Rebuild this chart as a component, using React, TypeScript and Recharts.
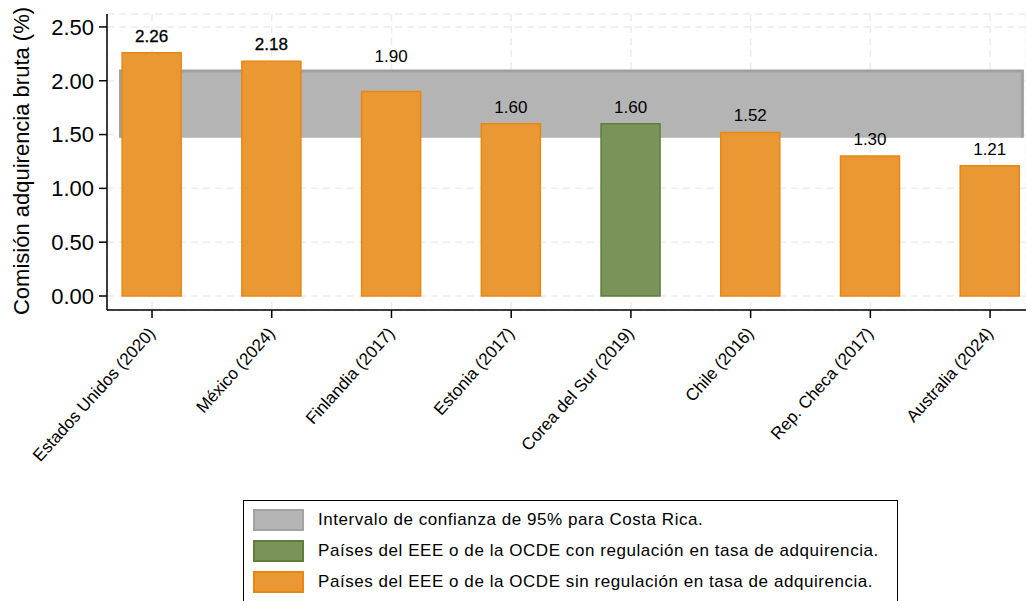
import React from 'react';
import {
  ComposedChart,
  Bar,
  Cell,
  XAxis,
  YAxis,
  CartesianGrid,
  ReferenceArea,
  LabelList,
} from 'recharts';

// Países, orden del gráfico
const countries = [
  'Estados Unidos (2020)',
  'México (2024)',
  'Finlandia (2017)',
  'Estonia (2017)',
  'Corea del Sur (2019)',
  'Chile (2016)',
  'Rep. Checa (2017)',
  'Australia (2024)',
];
const positions = [1, 2, 3, 4, 5, 6, 7, 8];
const fees = [2.26, 2.18, 1.9, 1.6, 1.6, 1.52, 1.3, 1.21];
// true = con regulación en tasa de adquirencia
const regulated = [false, false, false, false, true, false, false, false];

// Intervalo de confianza 95% para Costa Rica
const ciLow = 1.47;
const ciHigh = 2.09;
const ciFrom = 0.737;
const ciTo = 8.27;

const yTicks = [0, 0.5, 1, 1.5, 2, 2.5];

const legendItems = [
  { label: 'Intervalo de confianza de 95% para Costa Rica.', fill: '#b4b4b4', stroke: '#a3a3a3' },
  { label: 'Países del EEE o de la OCDE con regulación en tasa de adquirencia.', fill: '#7a9358', stroke: '#5e7f3a' },
  { label: 'Países del EEE o de la OCDE sin regulación en tasa de adquirencia.', fill: '#ea9834', stroke: '#e8860f' },
];

const ORANGE = '#ea9834';
const ORANGE_EDGE = '#e8860f';
const GREEN = '#7a9358';
const GREEN_EDGE = '#5e7f3a';
const FONT = 'Arial, "Liberation Sans", sans-serif';

const chartData = countries.map((name, i) => ({
  name,
  pos: positions[i],
  value: fees[i],
  regulated: regulated[i],
}));

function XTick(props: any) {
  const { x, y, payload } = props;
  const label = countries[payload.value - 1] ?? '';
  const ax = x + 4;
  const ay = y + 14;
  return (
    <text
      x={ax}
      y={ay}
      textAnchor="end"
      fontSize={17}
      fontFamily={FONT}
      fill="#000"
      transform={`rotate(-48, ${ax}, ${ay})`}
    >
      {label}
    </text>
  );
}

function BandShape(props: any) {
  const { x, y, width, height } = props;
  return (
    <g>
      <rect x={x} y={y} width={width} height={height} fill="#b4b4b4" />
      <path
        d={`M${x},${y + height} L${x},${y} L${x + width},${y} L${x + width},${y + height}`}
        fill="none"
        stroke="#a0a0a0"
        strokeWidth={3}
      />
    </g>
  );
}

function ValueLabel(props: any) {
  const { x, y, width, value, index } = props;
  // the 1.90 label sits higher in the original
  const lift = index === 2 ? 29 : 11;
  const heavy = index < 2;
  return (
    <text
      x={x + width / 2}
      y={y - lift}
      textAnchor="middle"
      fontSize={17}
      fontFamily={FONT}
      fill="#000"
      stroke={heavy ? '#000' : 'none'}
      strokeWidth={heavy ? 0.3 : 0}
    >
      {Number(value).toFixed(2)}
    </text>
  );
}

export default function App() {
  return (
    <div style={{ position: 'absolute', left: 0, top: 0, width: 1026, height: 601, background: '#fff' }}>
      <ComposedChart
        width={1026}
        height={601}
        data={chartData}
        margin={{ top: 14, right: 0, left: 0, bottom: 0 }}
      >
        <CartesianGrid
          stroke="#ececec"
          strokeWidth={1.5}
          strokeDasharray="7 5"
        />
        <XAxis
          dataKey="pos"
          type="number"
          domain={[0.624, 8.3]}
          ticks={positions}
          allowDataOverflow
          height={291}
          axisLine={{ stroke: '#000', strokeWidth: 1.5 }}
          tickLine={{ stroke: '#000', strokeWidth: 1.5 }}
          tickSize={8}
          interval={0}
          tick={<XTick />}
        />
        <YAxis
          type="number"
          domain={[-0.13, 2.62]}
          ticks={yTicks}
          allowDataOverflow
          width={107}
          axisLine={{ stroke: '#000', strokeWidth: 1.5 }}
          tickLine={{ stroke: '#000', strokeWidth: 1.5 }}
          tickSize={8}
          tickMargin={5}
          tick={{ fontSize: 22, fontFamily: FONT, fill: '#000' }}
          tickFormatter={(v: number) => v.toFixed(2)}
          label={{
            content: () => (
              <text
                x={29}
                y={161}
                textAnchor="middle"
                fontSize={22}
                fontFamily={FONT}
                fill="#000"
                transform="rotate(-90, 29, 161)"
              >
                Comisión adquirencia bruta (%)
              </text>
            ),
          }}
        />
        <ReferenceArea
          x1={ciFrom}
          x2={ciTo}
          y1={ciLow}
          y2={ciHigh}
          shape={<BandShape />}
        />
        <Bar dataKey="value" barSize={59} strokeWidth={1.5} isAnimationActive={false}>
          {chartData.map((d, i) => (
            <Cell
              key={i}
              fill={d.regulated ? GREEN : ORANGE}
              stroke={d.regulated ? GREEN_EDGE : ORANGE_EDGE}
            />
          ))}
          <LabelList dataKey="value" content={<ValueLabel />} />
        </Bar>
      </ComposedChart>

      <div
        style={{
          position: 'absolute',
          left: 243,
          top: 500,
          width: 655,
          height: 120,
          border: '1px solid #000',
          background: '#fff',
          boxSizing: 'border-box',
          fontFamily: FONT,
          fontSize: 17,
          letterSpacing: 0.55,
          color: '#000',
        }}
      >
        {legendItems.map((item, i) => (
          <div
            key={i}
            style={{
              position: 'absolute',
              left: 9,
              top: 8 + i * 31,
              display: 'flex',
              alignItems: 'center',
              whiteSpace: 'nowrap',
            }}
          >
            <span
              style={{
                display: 'inline-block',
                width: 51,
                height: 22,
                background: item.fill,
                border: `2px solid ${item.stroke}`,
                boxSizing: 'border-box',
                marginRight: 14,
              }}
            />
            <span>{item.label}</span>
          </div>
        ))}
      </div>
    </div>
  );
}
